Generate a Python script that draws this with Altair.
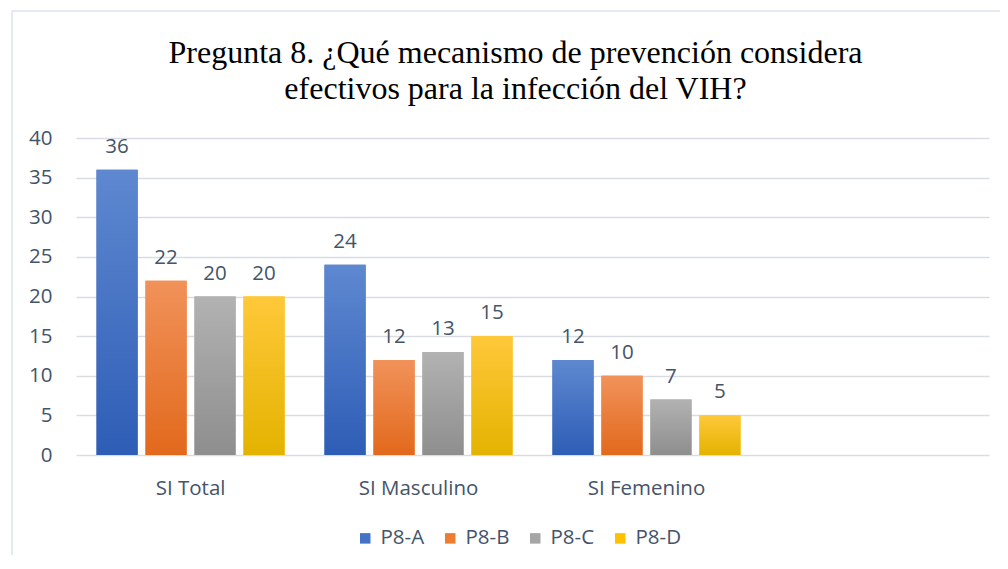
import altair as alt
import pandas as pd

categories = ["SI Total", "SI Masculino", "SI Femenino"]
axis_domain = categories + [""]
series = ["P8-A", "P8-B", "P8-C", "P8-D"]
p8a = [36, 24, 12]
p8b = [22, 12, 10]
p8c = [20, 13, 7]
p8d = [20, 15, 5]
y_ticks = [0, 5, 10, 15, 20, 25, 30, 35, 40]

solid = ["#4472C4", "#ED7D31", "#A5A5A5", "#FFC000"]
grad_top = ["#5E88D0", "#F1925A", "#B2B2B2", "#FFC83A"]
grad_bot = ["#2E5DB6", "#E2691C", "#8E8E8E", "#E4B300"]

rows = []
for s, vals in zip(series, [p8a, p8b, p8c, p8d]):
    for c, v in zip(categories, vals):
        rows.append({"cat": c, "serie": s, "val": v})
df = pd.DataFrame(rows)

TXT = "#44546A"
FONT = "Open Sans"

x_enc = alt.X("cat:N", sort=axis_domain,
              scale=alt.Scale(domain=axis_domain, paddingInner=0.175, paddingOuter=0.09),
              axis=alt.Axis(title=None, labelAngle=0, labelPadding=23, ticks=False, domain=False,
                            grid=False, labelFontSize=20.5, labelColor=TXT, labelFont=FONT))
xo_enc = alt.XOffset("serie:N", sort=series,
                     scale=alt.Scale(domain=series, paddingInner=0.16, paddingOuter=0))
y_enc = alt.Y("val:Q", scale=alt.Scale(domain=[0, 40], nice=False),
              axis=alt.Axis(title=None, values=y_ticks, ticks=False, domain=False, labelPadding=24,
                            labelFontSize=20.5, labelColor=TXT, labelFont=FONT,
                            gridColor="#D9DDE3", gridWidth=1.5))

base = alt.Chart(df)

bars = base.mark_bar().encode(
    x=x_enc, xOffset=xo_enc, y=y_enc,
    color=alt.Color("serie:N", sort=series,
                    scale=alt.Scale(domain=series, range=solid),
                    legend=alt.Legend(title=None, orient="none", direction="horizontal",
                                      legendX=279, legendY=390, symbolType="square",
                                      symbolSize=110, symbolStrokeWidth=0, labelFontSize=20.5,
                                      labelColor=TXT, labelFont=FONT, columnPadding=15,
                                      labelOffset=5))
)

layers = [bars]
for i, s in enumerate(series):
    g = alt.Gradient(gradient="linear",
                     stops=[alt.GradientStop(color=grad_top[i], offset=0),
                            alt.GradientStop(color=grad_bot[i], offset=1)],
                     x1=0, x2=0, y1=0, y2=1)
    layers.append(
        base.transform_filter(alt.datum.serie == s).mark_bar(color=g).encode(
            x=x_enc, xOffset=xo_enc, y=y_enc)
    )

labels = base.mark_text(baseline="bottom", dy=-13, fontSize=20.5, color=TXT, font=FONT).encode(
    x=x_enc, xOffset=xo_enc, y=y_enc, text=alt.Text("val:Q")
)
layers.append(labels)

frame = alt.Chart(pd.DataFrame({"k": [0]})).mark_rule(color="#DDE3EC", strokeWidth=1.5).encode(
    x=alt.value(-64), y=alt.value(-127), y2=alt.value(420))
frame2 = alt.Chart(pd.DataFrame({"k": [0]})).mark_rule(color="#DDE3EC", strokeWidth=1.5).encode(
    x=alt.value(-64), x2=alt.value(930), y=alt.value(-127))

chart = alt.layer(frame, frame2, *layers).properties(
    width=913, height=317,
    background="white",
    view=alt.ViewBackground(stroke="transparent", strokeWidth=0),
    autosize=alt.AutoSizeParams(type="none"),
    padding={"left": 68, "top": 130, "right": 11, "bottom": 100},
    title=alt.TitleParams(
        text=["Pregunta 8. ¿Qué mecanismo de prevención considera",
              "efectivos para la infección del VIH?"],
        font="Liberation Serif", fontSize=32, fontWeight="normal", color="#000000",
        anchor="middle", frame="group", dx=-17, offset=-96, lineHeight=36),
).configure_view(stroke="transparent", strokeWidth=0)

chart.save("out.html", embed_options={"renderer": "svg", "actions": False})
